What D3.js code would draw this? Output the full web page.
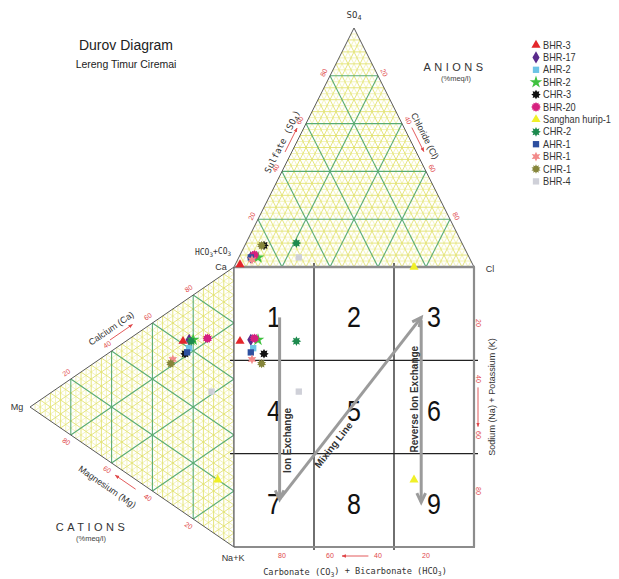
<!DOCTYPE html>
<html><head><meta charset="utf-8">
<script src="https://cdn.jsdelivr.net/npm/d3@7"></script>
<style>
body{margin:0;background:#fff;}
svg{display:block;font-family:"Liberation Sans",Arial,sans-serif;}
</style></head><body>
<svg id="chart" width="619" height="579"></svg>
<script>
// Samples (plot / legend order)
const samples = ["BHR-3","BHR-17","AHR-2","BHR-2","CHR-3","BHR-20","Sanghan hurip-1","CHR-2","AHR-1","BHR-1","CHR-1","BHR-4"];
// Anions, % meq/l
const hco3 = [97, 91, 90, 88, 83, 89, 25, 69, 91, 91, 84, 71];
const so4  = [ 1,  4,  4,  4,  9,  5,  0, 10,  4,  3,  9,  4];
const cl   = [ 2,  5,  6,  8,  8,  6, 75, 21,  5,  6,  7, 25];
// Cations, % meq/l
const ca   = [61, 63, 60, 64, 57, 68, 20, 63, 58, 52, 50, 50];
const mg   = [25, 22, 22, 20, 24, 13,  8, 21, 23, 30, 31, 11];
const nak  = [14, 15, 18, 16, 19, 19, 72, 16, 19, 18, 19, 39];
// Marker styles
const colors = ["#e3262b","#5a2b8c","#6cc4e6","#3fc23f","#111111","#d6207f","#f0f028","#1d8a4e","#2d4f9f","#f28a8a","#85853a","#cfd0d8"];
const shapes = ["triangle","diamond","square","star","burst8","burst12","triangle","burst8d","square","burst6","burst10","square"];
// Tick labels
const triTicks = [20, 40, 60, 80];
const zones = ["1","2","3","4","5","6","7","8","9"];

const svg = d3.select("#chart");

// Anion triangle: x from Cl + SO4/2, y from SO4
const anX = d3.scaleLinear().domain([0,100]).range([234,474]);
const anY = d3.scaleLinear().domain([0,100]).range([267,28]);
// Cation triangle: x from Mg, y from Na+K + Mg/2
const caX = d3.scaleLinear().domain([0,100]).range([234,30]);
const caY = d3.scaleLinear().domain([0,100]).range([267,547]);

const anPt = (s,c) => [anX(c + s/2), anY(s)];
const catPt = (m,n) => [caX(m), caY(n + m/2)];

const line = d3.line();

// ---------- triangle grids ----------
function triGrid(g, pt) {
  const seg = v => [[pt(v,0), pt(v,100-v)], [pt(0,v), pt(100-v,v)], [pt(0,100-v), pt(100-v,0)]];
  const fine = d3.range(2.5, 100, 5);
  const minor = d3.range(5, 100, 5).filter(v => v % 20 !== 0);
  const major = [20, 40, 60, 80];
  fine.forEach(v => seg(v).forEach(s => g.append("path").attr("d", line(s))
    .attr("stroke","#eeee9c").attr("stroke-width",0.7).attr("fill","none")));
  minor.forEach(v => seg(v).forEach(s => g.append("path").attr("d", line(s))
    .attr("stroke","#e2e270").attr("stroke-width",0.9).attr("fill","none")));
  major.forEach(v => seg(v).forEach(s => g.append("path").attr("d", line(s))
    .attr("stroke","#5aac72").attr("stroke-width",1.1).attr("fill","none")));
  g.append("path").attr("d", line([pt(0,0), pt(100,0), pt(0,100)]) + "Z")
    .attr("fill","none").attr("stroke","#5a5a5a").attr("stroke-width",1);
}
const gAn = svg.append("g"), gCat = svg.append("g");
triGrid(gAn, anPt);
triGrid(gCat, catPt);

// ---------- text helper ----------
function txt(g, x, y, parts, o = {}) {
  let tf = `translate(${x},${y})`;
  if (o.rot) tf += ` rotate(${o.rot})`;
  if (o.sy) tf += ` scale(1,${o.sy})`;
  const t = g.append("text").attr("transform", tf)
    .attr("text-anchor", o.anchor || "middle")
    .attr("dy", "0.35em")
    .style("font-size", (o.size || 9) + "px")
    .style("fill", o.fill || "#222")
    .style("font-family", o.font || null)
    .style("font-weight", o.weight || null)
    .style("letter-spacing", o.ls || null);
  if (typeof parts === "string") parts = [[parts]];
  let sub = false;
  parts.forEach(([s, isSub]) => {
    const ts = t.append("tspan").text(s);
    if (isSub && !sub) { ts.attr("dy", "0.3em").style("font-size", "0.75em"); sub = true; }
    else if (!isSub && sub) { ts.attr("dy", "-0.3em"); sub = false; }
    else if (isSub) ts.style("font-size", "0.75em");
  });
  return t;
}

const red = "#e0484a";
const defs = svg.append("defs");
defs.append("marker").attr("id","rh").attr("viewBox","0 0 10 10").attr("refX",9).attr("refY",5)
  .attr("markerWidth",5).attr("markerHeight",5).attr("orient","auto")
  .append("path").attr("d","M0,1L10,5L0,9Z").attr("fill",red);

function redArrow(p0, p1) {
  svg.append("path").attr("d", line([p0, p1])).attr("stroke", red).attr("stroke-width", 0.9)
    .attr("marker-end","url(#rh)");
}
const off = (p, n, d) => [p[0] + n[0]*d, p[1] + n[1]*d];
function normal(a, b, sign) {
  const dx = b[0]-a[0], dy = b[1]-a[1], L = Math.hypot(dx, dy);
  return [sign * dy / L, -sign * dx / L];
}
const angle = (a, b) => Math.atan2(b[1]-a[1], b[0]-a[0]) * 180 / Math.PI;

// ---------- anion triangle labels ----------
const aBase = anPt(0,0), aTop = anPt(100,0), aCl = anPt(0,100);
const nLeft = normal(aBase, aTop, 1), nRight = normal(aTop, aCl, 1);
const angL = angle(aBase, aTop), angR = angle(aTop, aCl);
triTicks.forEach(v => {
  const p = off(anPt(v, 0), nLeft, 7);
  txt(svg, p[0], p[1], String(v), {size: 7, fill: red, rot: angL});
  const q = off(anPt(100 - v, v), nRight, 7);
  txt(svg, q[0], q[1], String(v), {size: 7, fill: red, rot: angR});
});
{
  const p = off(anPt(50, 0), nLeft, 13);
  txt(svg, p[0], p[1], [["Sulfate (SO"],["4",true],[")"]], {size: 9, rot: angL, font: "DejaVu Sans Mono", fill: "#333"});
  redArrow(off(anPt(47,0), nLeft, 6), off(anPt(57,0), nLeft, 6));
  const q = off(anPt(52, 48), nRight, 15);
  txt(svg, q[0], q[1], "Chloride (Cl)", {size: 9, rot: angR, fill: "#333"});
  redArrow(off(anPt(57,43), nRight, 7), off(anPt(47,53), nRight, 7));
}
txt(svg, aTop[0], 15, [["SO"],["4",true]], {size: 9, font: "DejaVu Sans Mono", fill: "#333"});
txt(svg, 490, 269, "Cl", {size: 9, fill: "#333"});
txt(svg, 213, 252, [["HCO"],["3",true],["+CO"],["3",true]], {size: 8, font: "DejaVu Sans Mono", fill: "#333"});
txt(svg, 221, 267, "Ca", {size: 9, fill: "#333"});
txt(svg, 455, 67, "ANIONS", {size: 11, ls: "3.5px", fill: "#333"});
txt(svg, 456, 78, "(%meq/l)", {size: 7.5, fill: "#444"});

// ---------- cation triangle labels ----------
const cTop = catPt(0,0), cMg = catPt(100,0), cNK = catPt(0,100);
const nUp = normal(cMg, cTop, 1), nLow = normal(cNK, cMg, 1);
const angUp = angle(cMg, cTop), angLow = angle(cMg, cNK);
triTicks.forEach(v => {
  const p = off(catPt(100 - v, 0), nUp, 8);
  txt(svg, p[0], p[1], String(v), {size: 7, fill: red, rot: angUp});
  const q = off(catPt(v, 100 - v), nLow, 8);
  txt(svg, q[0], q[1], String(v), {size: 7, fill: red, rot: angLow});
});
{
  const p = off(catPt(55, 0), nUp, 19);
  txt(svg, p[0], p[1], "Calcium (Ca)", {size: 9, rot: angUp, fill: "#333"});
  redArrow(off(catPt(58,0), nUp, 10), off(catPt(47,0), nUp, 10));
  const q = off(catPt(56, 44), nLow, 22);
  txt(svg, q[0], q[1], "Magnesium (Mg)", {size: 9, rot: angLow, fill: "#333"});
  redArrow(off(catPt(46,54), nLow, 8), off(catPt(56,44), nLow, 8));
}
txt(svg, 17, 407, "Mg", {size: 9, fill: "#333"});
txt(svg, 233, 558, "Na+K", {size: 9, fill: "#333"});
txt(svg, 92, 527, "CATIONS", {size: 11, ls: "3.5px", fill: "#333"});
txt(svg, 91, 538, "(%meq/l)", {size: 7.5, fill: "#444"});

// ---------- central square ----------
const gSq = svg.append("g");
const sx0 = anX(0), sx1 = anX(100), sy0 = caY(0), sy1 = caY(100);
gSq.append("rect").attr("x", sx0).attr("y", sy0).attr("width", sx1 - sx0).attr("height", sy1 - sy0).attr("fill", "#fff");
[100/3, 200/3].forEach(v => {
  gSq.append("line").attr("x1", anX(v)).attr("x2", anX(v)).attr("y1", sy0 - 4).attr("y2", sy1 + 3)
    .attr("stroke", "#222").attr("stroke-width", 1.3);
  gSq.append("line").attr("y1", caY(v)).attr("y2", caY(v)).attr("x1", sx0 - 4).attr("x2", sx1 + 4)
    .attr("stroke", "#222").attr("stroke-width", 1.3);
});
gSq.append("line").attr("x1", sx0).attr("x2", sx1 + 1).attr("y1", sy0).attr("y2", sy0).attr("stroke", "#8c8c8c").attr("stroke-width", 2.6);
gSq.append("line").attr("x1", sx1).attr("x2", sx1).attr("y1", sy0).attr("y2", sy1).attr("stroke", "#8c8c8c").attr("stroke-width", 2.2);
gSq.append("line").attr("x1", sx0).attr("x2", sx1 + 1).attr("y1", sy1).attr("y2", sy1).attr("stroke", "#8c8c8c").attr("stroke-width", 2.2);
gSq.append("line").attr("x1", sx0).attr("x2", sx0).attr("y1", sy0).attr("y2", sy1).attr("stroke", "#666").attr("stroke-width", 1.2);

zones.forEach((z, i) => {
  const col = i % 3, row = Math.floor(i / 3);
  txt(gSq, anX(100/6 + col*100/3), caY(100/6 + row*100/3) + 3, z, {size: 25, sy: 1.2, fill: "#111"});
});

// bottom axis (carbonate + bicarbonate) and right axis (Na + K)
triTicks.forEach(v => {
  txt(svg, anX(100 - v), 556, String(v), {size: 7, fill: red});
  txt(svg, 478, caY(v), String(v), {size: 7, fill: red, rot: 90});
});
svg.append("path").attr("d", line([[anX(56), 556], [anX(45), 556]])).attr("stroke", red).attr("stroke-width", 0.9).attr("marker-end","url(#rh)");
svg.append("path").attr("d", line([[478, caY(43)], [478, caY(57)]])).attr("stroke", red).attr("stroke-width", 0.9).attr("marker-end","url(#rh)");
txt(svg, 355, 572, [["Carbonate (CO"],["3",true],[") + Bicarbonate (HCO"],["3",true],[")"]], {size: 8.6, font: "DejaVu Sans Mono", fill: "#333"});
txt(svg, 492, 397, "Sodium (Na) + Potassium (K)", {size: 9, rot: -90, fill: "#333"});

// ---------- process arrows ----------
const ionExchange = [[19, 18], [19, 83]];
const mixingLine  = [[19, 83], [78, 18]];
const reverseIon  = [[78, 19], [78, 84]];
const sqPt = d => [anX(d[0]), caY(d[1])];
function grayArrow(pts) {
  const p = pts.map(sqPt);
  gSq.append("path").attr("d", line(p)).attr("stroke", "#9b9b9b").attr("stroke-width", 3).attr("fill", "none");
  const [a, b] = p, L = Math.hypot(b[0]-a[0], b[1]-a[1]);
  const ux = (b[0]-a[0]) / L, uy = (b[1]-a[1]) / L, len = 10, ang = 0.45;
  const w = s => [b[0] - len*(ux*Math.cos(ang) - s*uy*Math.sin(ang)), b[1] - len*(uy*Math.cos(ang) + s*ux*Math.sin(ang))];
  gSq.append("path").attr("d", line([w(1), b, w(-1)])).attr("stroke", "#9b9b9b").attr("stroke-width", 3)
    .attr("fill", "none").attr("stroke-linejoin", "miter");
}
grayArrow(ionExchange);
grayArrow(mixingLine);
grayArrow(reverseIon);
{
  const a = sqPt(ionExchange[0]), b = sqPt(ionExchange[1]);
  txt(gSq, a[0] + 7.5, (a[1] + b[1]) / 2 + 32, "Ion Exchange", {size: 10, weight: "bold", rot: -90, fill: "#333"});
  const m0 = sqPt(mixingLine[0]), m1 = sqPt(mixingLine[1]);
  const ang = angle(m0, m1), nm = normal(m0, m1, -1);
  const mid = [m0[0] + (m1[0]-m0[0]) * 0.33, m0[1] + (m1[1]-m0[1]) * 0.33];
  const mp = off(mid, nm, 9);
  txt(gSq, mp[0], mp[1], "Mixing Line", {size: 10, weight: "bold", rot: ang, fill: "#333"});
  const r0 = sqPt(reverseIon[0]), r1 = sqPt(reverseIon[1]);
  txt(gSq, r0[0] - 6.5, (r0[1] + r1[1]) / 2 - 12, "Reverse Ion Exchange", {size: 10, weight: "bold", rot: -90, fill: "#333"});
}

// ---------- markers ----------
function burst(n, inner) {
  return { draw(ctx, size) {
    const r = Math.sqrt(size / 2.2), ri = r * inner;
    for (let i = 0; i < 2*n; i++) {
      const a = Math.PI * i / n - Math.PI / 2, rr = i % 2 ? ri : r;
      const x = rr * Math.cos(a), y = rr * Math.sin(a);
      i ? ctx.lineTo(x, y) : ctx.moveTo(x, y);
    }
    ctx.closePath();
  }};
}
const symTypes = {
  triangle: [d3.symbolTriangle, 36], diamond: [d3.symbolDiamond, 44], square: [d3.symbolSquare, 40],
  star: [d3.symbolStar, 50], burst8: [burst(8, 0.62), 50], burst12: [burst(12, 0.72), 54],
  burst8d: [burst(8, 0.58), 52], burst6: [burst(6, 0.5), 54], burst10: [burst(10, 0.62), 50]
};
const sym = i => { const [t, s] = symTypes[shapes[i]]; return d3.symbol().type(t).size(s)(); };

const idx = d3.range(samples.length);
const gPts = svg.append("g");
idx.forEach(i => {
  const pa = anPt(so4[i], cl[i]);
  const pc = catPt(mg[i], nak[i]);
  const ps = [anX(cl[i] + so4[i]/2), caY(nak[i] + mg[i]/2)];
  [pa, pc, ps].forEach(p => gPts.append("path").attr("d", sym(i))
    .attr("transform", `translate(${p[0]},${p[1]})`).attr("fill", colors[i]));
});

// ---------- legend ----------
const gLeg = svg.append("g");
idx.forEach(i => {
  const y = 45 + i * 12.4;
  gLeg.append("path").attr("d", sym(i)).attr("transform", `translate(536,${y})`).attr("fill", colors[i]);
  txt(gLeg, 543, y, samples[i], {size: 9.2, anchor: "start", fill: "#333", sy: 1.1});
});

// ---------- title ----------
txt(svg, 126, 45, "Durov Diagram", {size: 14, fill: "#222", sy: 1.1});
txt(svg, 126, 64, "Lereng Timur Ciremai", {size: 10.5, fill: "#222", sy: 1.1});
</script>
</body></html>
